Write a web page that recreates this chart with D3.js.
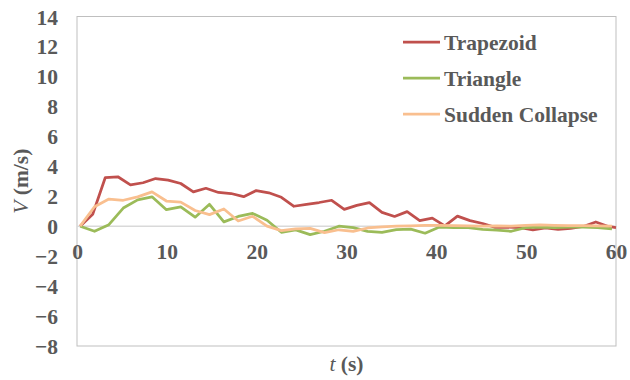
<!DOCTYPE html>
<html>
<head>
<meta charset="utf-8">
<script src="https://cdn.jsdelivr.net/npm/d3@7/dist/d3.min.js"></script>
<style>
  html, body { margin: 0; padding: 0; background: #fff; }
  svg { display: block; }
  text { font-family: "Liberation Serif", "Times New Roman", serif; fill: #595959; }
</style>
</head>
<body>
<svg id="chart" width="630" height="380"></svg>
<script>
// Flow velocity over time for three dam-break shapes
const seriesNames = ["Trapezoid", "Triangle", "Sudden Collapse"];
const seriesColors = ["#C0504D", "#9BBB59", "#F9BF8F"];

const tTrapezoid = [0.35, 1.75, 3.15, 4.55, 5.95, 7.35, 8.75, 10.15, 11.55, 12.95, 14.35, 15.75,
  17.15, 18.55, 19.95, 21.35, 22.75, 24.15, 25.55, 26.95, 28.35, 29.75, 31.15, 32.55, 33.95,
  35.35, 36.75, 38.15, 39.55, 40.95, 42.35, 43.75, 45.15, 46.55, 47.95, 49.35, 50.75, 52.15,
  53.55, 54.95, 56.35, 57.75, 59.15, 60];
const vTrapezoid = [0, 0.8, 3.25, 3.3, 2.76, 2.9, 3.18, 3.07, 2.85, 2.29, 2.53, 2.25, 2.18, 1.97,
  2.38, 2.23, 1.93, 1.33, 1.45, 1.58, 1.73, 1.12, 1.39, 1.57, 0.92, 0.65, 0.97, 0.37, 0.54, 0.02,
  0.67, 0.37, 0.18, -0.08, -0.07, -0.1, -0.25, -0.12, -0.21, -0.15, -0.02, 0.28, -0.02, -0.1];

const tTriangle = [0.35, 1.95, 3.55, 5.15, 6.75, 8.35, 9.95, 11.55, 13.15, 14.75, 16.35, 17.95,
  19.55, 21.15, 22.75, 24.35, 25.95, 27.55, 29.15, 30.75, 32.35, 33.95, 35.55, 37.15, 38.75,
  40.35, 41.95, 43.55, 45.15, 46.75, 48.35, 49.95, 51.55, 53.15, 54.75, 56.35, 57.95, 59.55];
const vTriangle = [0, -0.34, 0.1, 1.21, 1.76, 1.96, 1.1, 1.29, 0.6, 1.46, 0.29, 0.65, 0.85, 0.4,
  -0.41, -0.25, -0.56, -0.34, 0, -0.1, -0.35, -0.41, -0.23, -0.2, -0.47, -0.06, -0.1, -0.1,
  -0.21, -0.27, -0.34, -0.1, -0.07, -0.1, -0.07, -0.07, -0.1, -0.18];

const tSudden = tTriangle.slice();
const vSudden = [0, 1.3, 1.81, 1.73, 1.96, 2.29, 1.68, 1.61, 1.05, 0.77, 1.15, 0.35, 0.66, 0,
  -0.3, -0.18, -0.15, -0.43, -0.24, -0.35, -0.12, -0.04, 0, 0.02, 0.05, 0.05, 0.03, 0.02, 0,
  0.02, 0, 0.05, 0.08, 0.06, 0.04, 0.03, 0.02, 0];

const xTicks = [0, 10, 20, 30, 40, 50, 60];
const yTicks = [-8, -6, -4, -2, 0, 2, 4, 6, 8, 10, 12, 14];

const series = [
  { name: seriesNames[0], color: seriesColors[0], t: tTrapezoid, v: vTrapezoid },
  { name: seriesNames[1], color: seriesColors[1], t: tTriangle, v: vTriangle },
  { name: seriesNames[2], color: seriesColors[2], t: tSudden, v: vSudden }
];

const svg = d3.select("#chart");
const plot = { left: 77, right: 616, top: 16.5, bottom: 346 };

const x = d3.scaleLinear().domain([0, 60]).range([plot.left, plot.right]);
const y = d3.scaleLinear().domain([-8, 14]).range([plot.bottom, plot.top]);

// plot frame
svg.append("rect")
  .attr("x", plot.left).attr("y", plot.top)
  .attr("width", plot.right - plot.left).attr("height", plot.bottom - plot.top)
  .attr("fill", "none").attr("stroke", "#BFBFBF").attr("stroke-width", 1);

// zero baseline
svg.append("line")
  .attr("x1", plot.left).attr("x2", plot.right)
  .attr("y1", y(0)).attr("y2", y(0))
  .attr("stroke", "#D9D9D9").attr("stroke-width", 1.5);

// y axis labels
const yAxis = d3.axisLeft(y).tickValues(yTicks).tickSize(0).tickPadding(0).tickFormat(d3.format("d"));
const gy = svg.append("g").attr("transform", `translate(58,0)`).call(yAxis);
gy.select(".domain").remove();
gy.selectAll("text")
  .attr("font-size", 21.5).attr("font-weight", "bold")
  .attr("font-family", "Liberation Serif, serif").attr("fill", "#595959")
  .attr("dy", "0.35em");

// x axis labels, placed under the zero line
const xAxis = d3.axisBottom(x).tickValues(xTicks).tickSize(0).tickPadding(0).tickFormat(d3.format("d"));
const gx = svg.append("g").attr("transform", `translate(0,${y(0) + 25})`).call(xAxis);
gx.select(".domain").remove();
gx.selectAll("text")
  .attr("font-size", 21.5).attr("font-weight", "bold")
  .attr("font-family", "Liberation Serif, serif").attr("fill", "#595959")
  .attr("dy", "0.35em");

// series lines
const line = d3.line().x(d => x(d[0])).y(d => y(d[1]));
series.forEach(s => {
  svg.append("path")
    .datum(s.t.map((t, i) => [t, s.v[i]]))
    .attr("d", line)
    .attr("fill", "none")
    .attr("stroke", s.color)
    .attr("stroke-width", 2.75)
    .attr("stroke-linejoin", "round");
});

// legend
const legendY = [42, 78, 114];
series.forEach((s, i) => {
  svg.append("line")
    .attr("x1", 403).attr("x2", 440)
    .attr("y1", legendY[i]).attr("y2", legendY[i])
    .attr("stroke", s.color).attr("stroke-width", 2.75);
  svg.append("text")
    .attr("x", 444).attr("y", legendY[i]).attr("dy", "0.35em")
    .attr("font-size", 21.5).attr("font-weight", "bold")
    .text(s.name);
});

// axis titles
const yTitle = svg.append("text")
  .attr("transform", `translate(28,${(plot.top + plot.bottom) / 2}) rotate(-90)`)
  .attr("text-anchor", "middle")
  .attr("font-size", 21.5).attr("font-weight", "bold");
yTitle.append("tspan").attr("font-style", "italic").attr("font-weight", "normal").text("V");
yTitle.append("tspan").text(" (m/s)");

const xTitle = svg.append("text")
  .attr("x", (plot.left + plot.right) / 2).attr("y", 371)
  .attr("text-anchor", "middle")
  .attr("font-size", 21.5).attr("font-weight", "bold");
xTitle.append("tspan").attr("font-style", "italic").attr("font-weight", "normal").text("t");
xTitle.append("tspan").text(" (s)");
</script>
</body>
</html>
